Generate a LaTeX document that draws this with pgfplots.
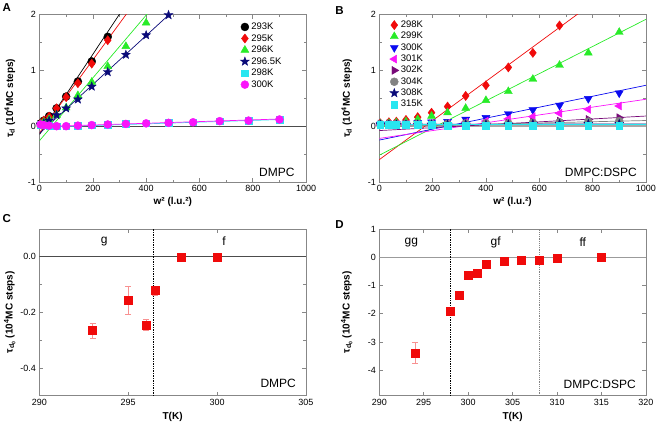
\documentclass[border=0pt]{standalone}
\usepackage{fontspec}
\setmainfont{Liberation Sans}
\usepackage{pgfplots}
\pgfplotsset{compat=1.18}
\definecolor{mygreen}{RGB}{40,235,40}
\definecolor{mycyan}{RGB}{40,230,240}
\definecolor{mynavy}{RGB}{10,10,120}
\definecolor{mypurple}{RGB}{120,10,120}
\definecolor{mymag}{RGB}{250,20,250}
\definecolor{myblue}{RGB}{10,10,240}
\definecolor{myred}{RGB}{240,10,10}
\definecolor{mygray}{RGB}{130,130,130}
\definecolor{framegray}{RGB}{135,135,135}

\pgfdeclareplotmark{fstar}{%
  \pgfpathmoveto{\pgfpointpolar{90}{1\pgfplotmarksize}}%
  \pgfpathlineto{\pgfpointpolar{126}{0.42\pgfplotmarksize}}%
  \pgfpathlineto{\pgfpointpolar{162}{1\pgfplotmarksize}}%
  \pgfpathlineto{\pgfpointpolar{198}{0.42\pgfplotmarksize}}%
  \pgfpathlineto{\pgfpointpolar{234}{1\pgfplotmarksize}}%
  \pgfpathlineto{\pgfpointpolar{270}{0.42\pgfplotmarksize}}%
  \pgfpathlineto{\pgfpointpolar{306}{1\pgfplotmarksize}}%
  \pgfpathlineto{\pgfpointpolar{342}{0.42\pgfplotmarksize}}%
  \pgfpathlineto{\pgfpointpolar{18}{1\pgfplotmarksize}}%
  \pgfpathlineto{\pgfpointpolar{54}{0.42\pgfplotmarksize}}%
  \pgfpathclose\pgfusepathqfillstroke}

\pgfplotsset{
  panel/.style={
    scale only axis,
    width=266.6pt,
    axis line style={framegray, line width=0.8pt},
    every tick/.style={framegray, line width=0.6pt},
    major tick length=4pt, minor tick length=2.5pt,
    tick label style={font=\fontsize{9}{10}\selectfont},
    /pgf/number format/assume math mode=true,
    /pgf/number format/1000 sep={},
    xlabel style={font=\bfseries\fontsize{10}{12}\selectfont, anchor=center},
    ylabel style={font=\bfseries\fontsize{10}{12}\selectfont, anchor=center, rotate=0},
    legend cell align=left,
  },
  fitline/.style={line width=0.7pt, forget plot},
}

\begin{document}
\begin{tikzpicture}
\useasboundingbox (0,0) rectangle (657pt,-424pt);

% ================= A =================
\begin{axis}[panel, height=167.5pt, at={(39.5pt,-182pt)}, anchor=south west,
  xmin=0, xmax=1000, ymin=-1, ymax=2,
  xtick={0,200,...,1000}, ytick={-1,0,1,2},
  minor x tick num=1, minor y tick num=1,
  xlabel={w² (l.u.²)}, ylabel={τ\textsubscript{d} (10\textsuperscript{4}MC steps)},
  xlabel style={at={(axis description cs:0.5,-0.12)}},
  ylabel style={at={(axis description cs:-0.111,0.5)}},
  legend style={at={(0.742,0.975)}, anchor=north west, draw=none, fill=none,
    font=\fontsize{9.5}{11}\selectfont, row sep=-0.6pt},
]
\addplot[gray!60!black, line width=0.6pt, forget plot] coordinates {(0,0) (1000,0)};

\addplot[fitline, black] coordinates {(0,-0.15) (320,2.15)};
\addplot[only marks, mark=*, mark size=4pt, black] coordinates {
(4,0.05) (16,0.10) (36,0.18) (64,0.32) (100,0.53) (144,0.80) (196,1.16) (256,1.60)};
\addlegendentry{293K}

\addplot[fitline, myred] coordinates {(0,-0.12) (340,2.10)};
\addplot[only marks, mark=diamond*, mark size=4.6pt, myred] coordinates {
(4,0.05) (16,0.10) (36,0.17) (64,0.32) (100,0.52) (144,0.77) (196,1.12) (256,1.54)};
\addlegendentry{295K}

\addplot[fitline, mygreen] coordinates {(0,-0.26) (420,2.10)};
\addplot[only marks, mark=triangle*, mark size=4.6pt, mygreen] coordinates {
(4,0.04) (16,0.07) (36,0.12) (64,0.20) (100,0.33) (144,0.55) (196,0.79) (256,1.07) (324,1.43) (400,1.85)};
\addlegendentry{296K}

\addplot[fitline, mynavy] coordinates {(0,-0.13) (500,2.06)};
\addplot[only marks, mark=fstar, mark size=4.6pt, mynavy] coordinates {
(4,0.03) (16,0.05) (36,0.10) (64,0.20) (100,0.32) (144,0.48) (196,0.71) (256,0.97) (324,1.28) (400,1.63) (484,1.99)};
\addlegendentry{296.5K}

\addplot[fitline, mycyan] coordinates {(0,-0.02) (910,0.12)};
\addplot[only marks, mark=square*, mark size=3.3pt, mycyan] coordinates {
(4,0.03) (16,0.02) (36,0.01) (64,0.00) (100,0.00) (144,0.01) (196,0.02) (256,0.03) (324,0.04) (400,0.05) (484,0.06) (576,0.07) (676,0.09) (784,0.10) (900,0.12)};
\addlegendentry{298K}

\addplot[fitline, mymag] coordinates {(0,-0.01) (910,0.13)};
\addplot[only marks, mark=*, mark size=4pt, mymag] coordinates {
(4,0.03) (16,0.02) (36,0.01) (64,0.00) (100,0.00) (144,0.01) (196,0.02) (256,0.03) (324,0.04) (400,0.05) (484,0.06) (576,0.07) (676,0.09) (784,0.10) (900,0.12)};
\addlegendentry{300K}

\node[font=\fontsize{12}{14}\selectfont] at (axis cs:890,-0.82) {DMPC};
\end{axis}

% ================= B =================
\begin{axis}[panel, height=167.7pt, at={(379.3pt,-182pt)}, anchor=south west,
  xmin=0, xmax=1000, ymin=-1, ymax=2,
  xtick={0,200,...,1000}, ytick={-1,0,1,2},
  minor x tick num=1, minor y tick num=1,
  xlabel={w² (l.u.²)}, ylabel={τ\textsubscript{d} (10\textsuperscript{4}MC steps)},
  xlabel style={at={(axis description cs:0.5,-0.12)}},
  ylabel style={at={(axis description cs:-0.122,0.5)}},
  legend style={at={(0.027,0.985)}, anchor=north west, draw=none, fill=none,
    font=\fontsize{9.5}{11}\selectfont, row sep=-0.8pt},
]
\addplot[mygray!70, line width=2pt, forget plot] coordinates {(0,0) (1000,0)};

\addplot[fitline, myred] coordinates {(0,-0.60) (780,2.13)};
\addplot[only marks, mark=diamond*, mark size=4.6pt, myred] coordinates {
(4,0.05) (36,0.07) (64,0.08) (100,0.11) (144,0.16) (196,0.24) (256,0.35) (324,0.54) (400,0.73) (484,1.05) (576,1.31) (676,1.80)};
\addlegendentry{298K}

\addplot[fitline, mygreen] coordinates {(0,-0.52) (1000,1.91)};
\addplot[only marks, mark=triangle*, mark size=4.6pt, mygreen] coordinates {
(4,0.04) (36,0.05) (64,0.06) (100,0.08) (144,0.12) (196,0.18) (256,0.24) (324,0.32) (400,0.46) (484,0.62) (576,0.84) (676,1.09) (784,1.31) (900,1.68)};
\addlegendentry{299K}

\addplot[fitline, myblue] coordinates {(0,-0.25) (1000,0.73)};
\addplot[only marks, mark=triangle*, mark size=4.6pt, mark options={rotate=180}, myblue] coordinates {
(4,0.03) (36,0.04) (64,0.04) (100,0.05) (144,0.06) (196,0.07) (256,0.08) (324,0.12) (400,0.15) (484,0.22) (576,0.29) (676,0.37) (784,0.49) (900,0.59)};
\addlegendentry{300K}

\addplot[fitline, mymag] coordinates {(0,-0.22) (1000,0.48)};
\addplot[only marks, mark=triangle*, mark size=4.6pt, mark options={rotate=90}, mymag] coordinates {
(4,0.02) (36,0.03) (64,0.03) (100,0.03) (144,0.04) (196,0.04) (256,0.05) (324,0.07) (400,0.09) (484,0.13) (576,0.17) (676,0.23) (784,0.30) (900,0.36)};
\addlegendentry{301K}

\addplot[fitline, mypurple] coordinates {(0,-0.08) (1000,0.18)};
\addplot[only marks, mark=triangle*, mark size=4.6pt, mark options={rotate=-90}, mypurple] coordinates {
(4,0.04) (36,0.04) (64,0.04) (100,0.04) (144,0.04) (196,0.04) (256,0.04) (324,0.04) (400,0.04) (484,0.05) (576,0.07) (676,0.09) (784,0.12) (900,0.15)};
\addlegendentry{302K}

\addplot[fitline, mygray] coordinates {(0,-0.01) (1000,0.10)};
\addplot[only marks, mark=*, mark size=4pt, mygray] coordinates {
(4,0.04) (36,0.04) (64,0.04) (100,0.04) (144,0.04) (196,0.04) (256,0.04) (324,0.05) (400,0.05) (484,0.05) (576,0.06) (676,0.07) (784,0.08) (900,0.09)};
\addlegendentry{304K}

\addplot[fitline, mynavy] coordinates {(0,0.03) (1000,0.04)};
\addplot[only marks, mark=fstar, mark size=4.6pt, mynavy] coordinates {
(4,0.03) (36,0.03) (64,0.03) (100,0.03) (144,0.03) (196,0.03) (256,0.03) (324,0.03) (400,0.03) (484,0.03) (576,0.04) (676,0.04) (784,0.04) (900,0.04)};
\addlegendentry{308K}

\addplot[fitline, mycyan, line width=1pt] coordinates {(0,0.02) (1000,0.02)};
\addplot[only marks, mark=square*, mark size=3.3pt, mycyan] coordinates {
(4,0.02) (36,0.02) (64,0.02) (100,0.02) (144,0.02) (196,0.02) (256,0.01) (324,0.01) (400,0.01) (484,0.01) (576,0.01) (676,0.01) (784,0.01) (900,0.01)};
\addlegendentry{315K}

\node[font=\fontsize{12}{14}\selectfont] at (axis cs:831,-0.82) {DMPC:DSPC};
\end{axis}

% ================= C =================
\begin{axis}[panel, height=166.7pt, at={(39.3pt,-395.7pt)}, anchor=south west,
  xmin=290, xmax=305, ymin=-0.5, ymax=0.1,
  xtick={290,295,300,305}, ytick={-0.4,-0.2,0},
  minor y tick num=1,
  yticklabel style={/pgf/number format/.cd, fixed, fixed zerofill, precision=1},
  xlabel={T(K)}, ylabel={τ\textsubscript{d\textsubscript{0}} (10\textsuperscript{4}MC steps)},
  xlabel style={at={(axis description cs:0.5,-0.128)}},
  ylabel style={at={(axis description cs:-0.111,0.5)}},
]
\addplot[gray!60!black, line width=0.6pt, forget plot] coordinates {(290,0) (305,0)};
\addplot[black, densely dotted, line width=0.7pt, forget plot] coordinates {(296.4,-0.5) (296.4,0.1)};
\addplot[only marks, mark=square*, mark size=4pt, myred,
  error bars/.cd, y dir=both, y explicit,
  error bar style={myred!45, line width=0.6pt},
  error mark options={myred!45, mark size=3pt, rotate=90, line width=0.6pt}]
  coordinates {
  (293,-0.266) +- (0,0.026)
  (295,-0.157) +- (0,0.049)
  (296,-0.245) +- (0,0.020)
  (296.5,-0.122) +- (0,0.015)
  (298,0.0) +- (0,0.0)
  (300,0.0) +- (0,0.0)};
\node[font=\fontsize{12}{14}\selectfont] at (axis cs:293.65,0.056) {g};
\node[font=\fontsize{12}{14}\selectfont] at (axis cs:300.4,0.056) {f};
\node[font=\fontsize{12}{14}\selectfont] at (axis cs:303.44,-0.455) {DMPC};
\end{axis}

% ================= D =================
\begin{axis}[panel, height=166.7pt, at={(379.3pt,-395.7pt)}, anchor=south west,
  xmin=290, xmax=320, ymin=-4.9, ymax=1,
  xtick={290,295,...,320}, ytick={-4,-3,-2,-1,0,1},
  xlabel={T(K)}, ylabel={τ\textsubscript{d\textsubscript{0}} (10\textsuperscript{4}MC steps)},
  xlabel style={at={(axis description cs:0.5,-0.128)}},
  ylabel style={at={(axis description cs:-0.122,0.5)}},
]
\addplot[mygray!80, line width=1.3pt, forget plot] coordinates {(290,0) (320,0)};
\addplot[black, densely dotted, line width=0.7pt, forget plot] coordinates {(298,-4.9) (298,1)};
\addplot[mygray, densely dotted, line width=1.2pt, forget plot] coordinates {(308,-4.9) (308,1)};
\addplot[only marks, mark=square*, mark size=4pt, myred,
  error bars/.cd, y dir=both, y explicit,
  error bar style={myred!45, line width=0.6pt},
  error mark options={myred!45, mark size=3pt, rotate=90, line width=0.6pt}]
  coordinates {
  (294,-3.38) +- (0,0.36)
  (298,-1.90) +- (0,0.05)
  (299,-1.36) +- (0,0.05)
  (300,-0.63) +- (0,0.05)
  (301,-0.58) +- (0,0.05)
  (302,-0.25) +- (0,0.04)
  (304,-0.13) +- (0,0.03)
  (306,-0.10) +- (0,0.03)
  (308,-0.12) +- (0,0.03)
  (310,-0.05) +- (0,0.02)
  (315,-0.01) +- (0,0.02)};
\node[font=\fontsize{12}{14}\selectfont] at (axis cs:293.6,0.53) {gg};
\node[font=\fontsize{12}{14}\selectfont] at (axis cs:303.1,0.53) {gf};
\node[font=\fontsize{12}{14}\selectfont] at (axis cs:312.9,0.53) {ff};
\node[font=\fontsize{12}{14}\selectfont] at (axis cs:314.8,-4.5) {DMPC:DSPC};
\end{axis}

% panel letters
\node[font=\bfseries\fontsize{11.5}{13}\selectfont] at (6.7pt,-7.5pt) {A};
\node[font=\bfseries\fontsize{11.5}{13}\selectfont] at (339.5pt,-10.5pt) {B};
\node[font=\bfseries\fontsize{11.5}{13}\selectfont] at (6.7pt,-219pt) {C};
\node[font=\bfseries\fontsize{11.5}{13}\selectfont] at (339.5pt,-224.2pt) {D};
\end{tikzpicture}
\end{document}
